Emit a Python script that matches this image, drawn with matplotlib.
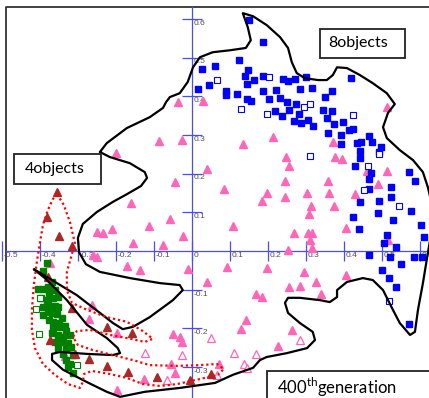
import numpy as np
import matplotlib.pyplot as plt
from matplotlib.patches import Rectangle

plt.rcParams['font.family'] = ['Lato', 'DejaVu Sans']
plt.rcParams['mathtext.fontset'] = 'custom'
plt.rcParams['mathtext.rm'] = 'Lato'

# 8-object individuals (blue squares)
blue_x = [0.150, 0.187, 0.124, 0.061, 0.026, 0.147, 0.139, 0.163, 0.145, 0.187, 0.016, 0.045, 0.089, 0.089,
          0.118, 0.145, 0.155, 0.187, 0.221, 0.203, 0.239, 0.253, 0.271, 0.300, 0.284, 0.316, 0.232, 0.250,
          0.274, 0.218, 0.237, 0.255, 0.282, 0.268, 0.287, 0.305, 0.318, 0.350, 0.345, 0.355, 0.358, 0.368,
          0.368, 0.374, 0.397, 0.392, 0.413, 0.424, 0.392, 0.418, 0.466, 0.474, 0.434, 0.445, 0.442, 0.442,
          0.497, 0.492, 0.429, 0.471, 0.466, 0.571, 0.587, 0.524, 0.466, 0.524, 0.442, 0.492, 0.489, 0.424,
          0.576, 0.529, 0.439, 0.603, 0.513, 0.611, 0.466, 0.505, 0.521, 0.537, 0.550, 0.584, 0.605, 0.500,
          0.518, 0.537, 0.571]
blue_y = [0.597, 0.540, 0.494, 0.478, 0.470, 0.468, 0.452, 0.442, 0.432, 0.452, 0.419, 0.429, 0.413, 0.403,
          0.406, 0.393, 0.388, 0.413, 0.416, 0.393, 0.444, 0.439, 0.444, 0.450, 0.419, 0.421, 0.395, 0.385,
          0.380, 0.362, 0.349, 0.364, 0.354, 0.336, 0.331, 0.339, 0.323, 0.398, 0.364, 0.344, 0.305, 0.413,
          0.362, 0.328, 0.333, 0.300, 0.313, 0.315, 0.276, 0.447, 0.297, 0.282, 0.279, 0.282, 0.258, 0.240,
          0.269, 0.256, 0.220, 0.202, 0.186, 0.204, 0.181, 0.165, 0.160, 0.140, 0.127, 0.129, 0.098, 0.088,
          0.103, 0.080, 0.057, 0.067, 0.041, 0.036, -0.010, 0.021, -0.016, 0.010, -0.034, -0.016, -0.016, -0.049,
          -0.070, -0.093, -0.189]
blue_open_x = [0.066, 0.203, 0.129, 0.197, 0.295, 0.311, 0.424, 0.492, 0.463, 0.453, 0.311, 0.545, 0.518]
blue_open_y = [0.442, 0.450, 0.367, 0.354, 0.372, 0.380, 0.351, 0.251, 0.220, 0.158, 0.245, 0.116, -0.129]

# pink triangles
pink_x = [-0.037, 0.029, -0.087, -0.026, -0.200, 0.039, -0.045, 0.213, 0.134, 0.247, 0.255, 0.371, 0.376,
          0.395, 0.513, 0.461, 0.513, 0.489, 0.084, 0.245, 0.358, 0.197, 0.245, 0.303, 0.361, 0.429, 0.184,
          0.313, 0.308, 0.374, 0.405, 0.305, 0.316, 0.108, 0.268, 0.311, 0.253, 0.316, 0.516, 0.092, 0.197,
          0.295, 0.326, 0.284, 0.255, 0.339, 0.405, 0.039, 0.168, 0.184, 0.142, 0.129, 0.263, 0.226, 0.071,
          -0.161, -0.058, -0.113, -0.024, -0.211, -0.250, -0.234, -0.155, -0.076, -0.261, -0.250, -0.171,
          -0.137, -0.011, -0.374, -0.263, -0.271, -0.197, -0.050, -0.032, -0.026, -0.055, -0.045, -0.126,
          -0.197, -0.334]
pink_y = [0.385, 0.388, 0.284, 0.287, 0.253, 0.212, 0.178, 0.295, 0.276, 0.243, 0.220, 0.282, 0.243,
          0.238, 0.372, 0.207, 0.207, 0.173, 0.160, 0.181, 0.181, 0.150, 0.140, 0.150, 0.150, 0.147, 0.129,
          0.116, 0.096, 0.116, 0.059, 0.047, 0.047, 0.065, 0.047, 0.028, 0.003, 0.008, 0.028, -0.041, -0.044,
          -0.054, -0.080, -0.090, -0.093, -0.111, -0.062, -0.080, -0.111, -0.119, -0.178, -0.202, -0.204,
          -0.245, -0.292, 0.124, 0.083, 0.065, 0.039, 0.057, 0.049, 0.047, 0.021, 0.016, -0.010, -0.016,
          -0.039, -0.049, -0.047, -0.031, -0.140, -0.176, -0.212, -0.214, -0.222, -0.235, -0.292, -0.315,
          -0.331, -0.359, -0.271]
pink_open_x = [0.050, 0.284, 0.111, 0.168, 0.137, 0.145, -0.124, -0.026, -0.066, 0.066]
pink_open_y = [-0.225, -0.230, -0.264, -0.266, -0.292, -0.302, -0.264, -0.269, -0.333, -0.320]

# dark red triangles
red_x = [-0.355, -0.382, -0.350, -0.316, -0.379, -0.316, -0.224, -0.158, -0.374, -0.308, -0.271, -0.224,
         -0.168, -0.092, -0.005, 0.050]
red_y = [0.152, 0.088, 0.039, 0.013, -0.067, -0.147, -0.196, -0.212, -0.230, -0.266, -0.279, -0.297,
         -0.313, -0.326, -0.333, -0.318]

# 4-object individuals (green squares)
green_x = [-0.380, -0.368, -0.404, -0.391, -0.378, -0.376, -0.361, -0.396, -0.382, -0.365, -0.352, -0.391,
           -0.378, -0.361, -0.352, -0.391, -0.369, -0.356, -0.376, -0.365, -0.349, -0.365, -0.347, -0.334,
           -0.369, -0.352, -0.339, -0.321, -0.361, -0.343, -0.326, -0.352, -0.330, -0.317, -0.339, -0.330,
           -0.321, -0.327, -0.312, -0.392, -0.332, -0.313, -0.379, -0.342]
green_y = [-0.030, -0.079, -0.099, -0.099, -0.092, -0.108, -0.101, -0.122, -0.127, -0.122, -0.118, -0.144,
           -0.140, -0.142, -0.144, -0.165, -0.161, -0.163, -0.178, -0.183, -0.187, -0.200, -0.196, -0.194,
           -0.213, -0.217, -0.221, -0.217, -0.234, -0.234, -0.239, -0.251, -0.254, -0.249, -0.266, -0.282,
           -0.292, -0.299, -0.316, -0.052, -0.207, -0.269, -0.158, -0.173]
green_open_x = [-0.411, -0.400, -0.403, -0.303]
green_open_y = [-0.150, -0.121, -0.214, -0.295]

# hand-drawn group outlines
black_x = [-0.242, -0.216, -0.163, -0.124, -0.118, -0.134, -0.171, -0.208, -0.250, -0.287, -0.300, -0.297,
           -0.279, -0.242, -0.163, -0.084, -0.032, -0.024, -0.050, -0.111, -0.155, -0.182, -0.208, -0.242,
           -0.303, -0.355, -0.395, -0.416, -0.387, -0.329, -0.276, -0.224, -0.195, -0.189, -0.208, -0.276,
           -0.347, -0.368, -0.368, -0.339, -0.276, -0.224, -0.189, -0.124, -0.032, 0.061, 0.108, 0.161,
           0.179, 0.197, 0.250, 0.303, 0.324, 0.318, 0.284, 0.253, 0.245, 0.253, 0.284, 0.337, 0.363, 0.382,
           0.382, 0.408, 0.450, 0.476, 0.503, 0.529, 0.547, 0.574, 0.587, 0.595, 0.608, 0.618, 0.629, 0.632,
           0.621, 0.608, 0.582, 0.547, 0.513, 0.503, 0.516, 0.534, 0.513, 0.476, 0.442, 0.408, 0.382, 0.371,
           0.355, 0.332, 0.297, 0.276, 0.263, 0.253, 0.232, 0.197, 0.161, 0.134, 0.147, 0.155, 0.142, 0.100,
           0.055, 0.021, 0.003, -0.011, -0.032, -0.058, -0.068, -0.076, -0.111, -0.171, -0.224]
black_y = [0.256, 0.243, 0.227, 0.204, 0.189, 0.168, 0.147, 0.127, 0.101, 0.070, 0.034, -0.003, -0.034,
           -0.054, -0.070, -0.083, -0.088, -0.101, -0.127, -0.171, -0.196, -0.202, -0.186, -0.160, -0.114,
           -0.083, -0.059, -0.047, -0.070, -0.127, -0.191, -0.225, -0.251, -0.264, -0.269, -0.266, -0.261,
           -0.266, -0.282, -0.307, -0.339, -0.364, -0.377, -0.364, -0.354, -0.341, -0.320, -0.302, -0.282,
           -0.274, -0.264, -0.251, -0.230, -0.209, -0.186, -0.160, -0.134, -0.121, -0.121, -0.127, -0.132,
           -0.119, -0.101, -0.080, -0.070, -0.075, -0.101, -0.152, -0.186, -0.217, -0.209, -0.152, -0.083,
           -0.023, 0.041, 0.119, 0.165, 0.204, 0.235, 0.261, 0.292, 0.320, 0.357, 0.380, 0.408, 0.434, 0.455,
           0.473, 0.475, 0.455, 0.442, 0.442, 0.447, 0.460, 0.488, 0.525, 0.553, 0.584, 0.607, 0.615, 0.579,
           0.545, 0.525, 0.519, 0.514, 0.501, 0.475, 0.437, 0.408, 0.398, 0.385, 0.370, 0.346, 0.318, 0.279]

dotted_x = [-0.355, -0.337, -0.321, -0.308, -0.318, -0.329, -0.329, -0.316, -0.276, -0.224, -0.171, -0.129,
            -0.103, -0.124, -0.171, -0.216, -0.268, -0.303, -0.313, -0.300, -0.261, -0.208, -0.155, -0.111,
            -0.039, 0.021, 0.066, 0.084, 0.068, 0.021, -0.039, -0.084, -0.129, -0.171, -0.216, -0.263,
            -0.284, -0.287, -0.295, -0.326, -0.361, -0.392, -0.413, -0.421, -0.421, -0.416, -0.408, -0.400,
            -0.392, -0.379, -0.366]
dotted_y = [0.147, 0.119, 0.075, 0.021, -0.016, -0.054, -0.101, -0.134, -0.152, -0.171, -0.183, -0.207,
            -0.227, -0.235, -0.225, -0.217, -0.204, -0.207, -0.222, -0.243, -0.256, -0.269, -0.282, -0.295,
            -0.297, -0.295, -0.292, -0.305, -0.320, -0.331, -0.344, -0.349, -0.344, -0.328, -0.318, -0.310,
            -0.318, -0.339, -0.354, -0.344, -0.320, -0.292, -0.251, -0.204, -0.152, -0.088, -0.028, 0.021,
            0.067, 0.106, 0.134]

x_ticks = [-0.5, -0.4, -0.3, -0.2, -0.1, 0.0, 0.1, 0.2, 0.3, 0.4, 0.5, 0.6]
y_ticks = [-0.3, -0.2, -0.1, 0.1, 0.2, 0.3, 0.4, 0.5, 0.6]

axis_blue = '#4a4aff'
label_gray = '#505050'
pink = '#ff66b8'

fig = plt.figure(figsize=(4.29, 3.98), dpi=100)
ax = fig.add_axes([0, 0, 1, 1])
ax.set_xlim(-0.505, 0.624)
ax.set_ylim(-0.380, 0.649)
ax.axis('off')

# frame (left and top edges are visible)
ax.plot([-0.489, -0.489, 0.7], [-0.5, 0.630, 0.630], color='#333333', lw=1.3, zorder=1)

# axes crossing at the origin
ax.plot([-0.489, 0.7], [0, 0], color=axis_blue, lw=0.9, zorder=1)
ax.plot([0, 0], [-0.5, 0.630], color=axis_blue, lw=0.9, zorder=1)
ax.plot(x_ticks, np.zeros(len(x_ticks)), ls='none', marker='|', ms=14, mew=0.9, color=axis_blue, zorder=1)
ax.plot(np.zeros(len(y_ticks)), y_ticks, ls='none', marker='_', ms=14, mew=0.9, color=axis_blue, zorder=1)
for v in x_ticks:
    ax.annotate(f'{v:g}', (v, 0), xytext=(1.3, -0.8), textcoords='offset points', ha='left', va='top',
                fontsize=6, color=label_gray, family='Liberation Sans', zorder=2)
for v in y_ticks:
    ax.annotate(f'{v:g}', (0, v), xytext=(1.0, -0.6), textcoords='offset points', ha='left', va='top',
                fontsize=6, color=label_gray, family='Liberation Sans', zorder=2)

# points
ax.plot(pink_x, pink_y, ls='none', marker='^', ms=5.3, color=pink, mec=pink, zorder=3)
ax.plot(pink_open_x, pink_open_y, ls='none', marker='^', ms=5.3, mfc='white', mec=pink, mew=0.9, zorder=3)
ax.plot(blue_x, blue_y, ls='none', marker='s', ms=4.2, color='#0000ff', zorder=3)
ax.plot(blue_open_x, blue_open_y, ls='none', marker='s', ms=4.2, mfc='white', mec='#0000ff', mew=0.8, zorder=3)
ax.plot(green_x, green_y, ls='none', marker='s', ms=4.8, color='#008000', zorder=3)
ax.plot(green_open_x, green_open_y, ls='none', marker='s', ms=4.3, mfc='white', mec='#008000', mew=0.8, zorder=3)
ax.plot(red_x, red_y, ls='none', marker='^', ms=5.3, color='#a52a2a', zorder=3)

# group outlines
ax.plot(black_x + black_x[:1], black_y + black_y[:1], color='black', lw=1.6,
        solid_joinstyle='round', solid_capstyle='round', zorder=4)
ax.plot(dotted_x + dotted_x[:1], dotted_y + dotted_y[:1], color='#ff0000', lw=1.6,
        ls=(0, (1, 1.3)), zorder=4)

# labels in boxes
ax.add_patch(Rectangle((0.337, 0.498), 0.224, 0.077, facecolor='white', edgecolor='#222222', lw=1.3, zorder=5))
ax.text(0.359, 0.537, '8objects', fontsize=11.5, va='center', ha='left', zorder=6)
ax.add_patch(Rectangle((-0.468, 0.172), 0.230, 0.080, facecolor='white', edgecolor='#222222', lw=1.3, zorder=5))
ax.text(-0.441, 0.212, '4objects', fontsize=11.5, va='center', ha='left', zorder=6)
ax.add_patch(Rectangle((0.197, -0.45), 0.5, 0.141, facecolor='white', edgecolor='#222222', lw=1.3, zorder=5))
ax.text(0.224, -0.352, r'400$^{\mathrm{th}}$generation', fontsize=12, va='center', ha='left', zorder=6)

fig.savefig('out.png', dpi=100)
